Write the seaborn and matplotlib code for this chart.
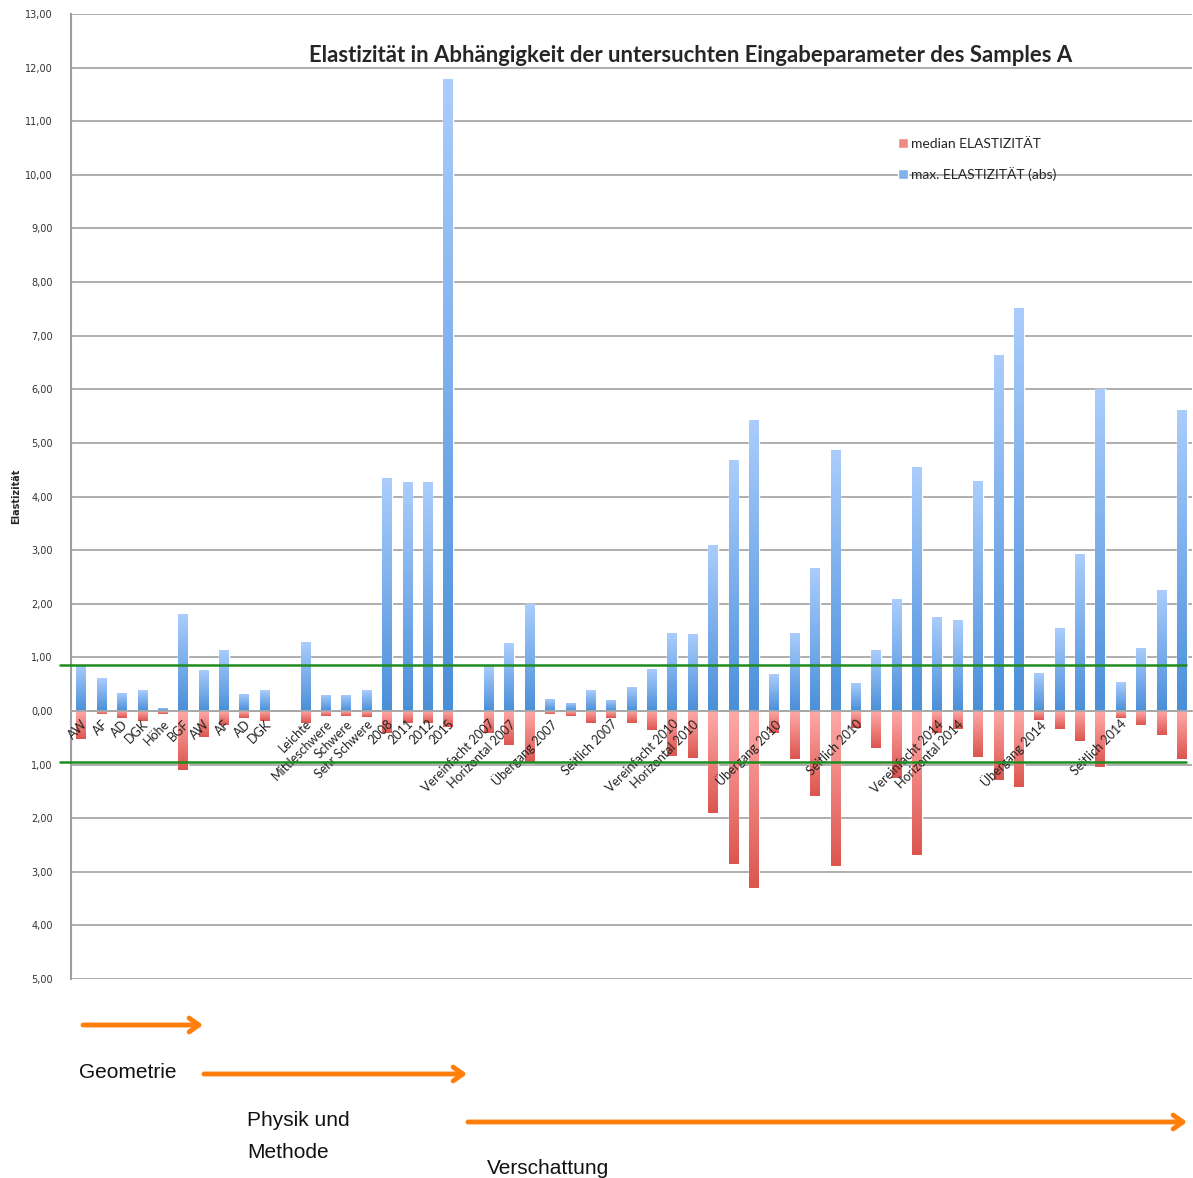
import numpy as np
import pandas as pd
import matplotlib
matplotlib.use("Agg")
import matplotlib.pyplot as plt
import matplotlib.transforms as mtrans
import seaborn as sns
from matplotlib.colors import LinearSegmentedColormap
from matplotlib.patches import Patch
from matplotlib.ticker import FuncFormatter, MultipleLocator

# Kategorien (leere Strings = Kategorien ohne Beschriftung)
labels = [
    "AW", "AF", "AD", "DGK", "Höhe", "BGF", "AW", "AF", "AD", "DGK", "",
    "Leichte", "Mittleschwere", "Schwere", "Sehr Schwere",
    "2008", "2011", "2012", "2015", "",
    "Vereinfacht 2007", "Horizontal 2007", "", "Übergang 2007", "", "",
    "Seitlich 2007", "", "",
    "Vereinfacht 2010", "Horizontal 2010", "", "", "", "Übergang 2010",
    "", "", "", "Seitlich 2010", "", "", "",
    "Vereinfacht 2014", "Horizontal 2014", "", "", "", "Übergang 2014",
    "", "", "", "Seitlich 2014", "", "", "",
]

max_elast = [
    0.86, 0.61, 0.34, 0.39, 0.06, 1.80, 0.77, 1.14, 0.32, 0.39, None,
    1.28, 0.30, 0.30, 0.39,
    4.34, 4.27, 4.27, 11.78, None,
    0.83, 1.26, 1.99, 0.23, 0.15, 0.39, 0.21, 0.45, 0.79,
    1.46, 1.44, 3.09, 4.68, 5.43, 0.68, 1.46, 2.66, 4.87, 0.53, 1.13, 2.08, 4.55,
    1.76, 1.69, 4.28, 6.64, 7.52, 0.71, 1.54, 2.92, 6.00, 0.54, 1.18, 2.25, 5.62,
]

median_elast = [
    -0.52, -0.05, -0.14, -0.19, -0.05, -1.11, -0.48, -0.26, -0.13, -0.19, None,
    -0.23, -0.09, -0.09, -0.11,
    -0.41, -0.22, -0.22, -0.30, None,
    -0.41, -0.63, -0.98, -0.05, -0.09, -0.23, -0.13, -0.23, -0.36,
    -0.84, -0.87, -1.90, -2.85, -3.30, -0.42, -0.89, -1.58, -2.90, -0.31, -0.69, -1.25, -2.68,
    -0.41, -0.33, -0.86, -1.29, -1.41, -0.17, -0.33, -0.56, -1.04, -0.13, -0.26, -0.45, -0.89,
]

grenzen = [0.85, -0.96]

series = ["median ELASTIZITÄT", "max. ELASTIZITÄT (abs)"]

pos = list(range(len(labels)))
df = pd.DataFrame({
    "pos": pos * 2,
    "wert": pd.array(median_elast + max_elast, dtype="Float64").astype(float),
    "reihe": [series[0]] * len(pos) + [series[1]] * len(pos),
})

sns.set_style("white")
plt.rcParams["font.family"] = ["Lato", "DejaVu Sans"]

W, H = 1193, 1178
fig = plt.figure(figsize=(W / 100, H / 100), dpi=100)
ax = fig.add_axes([71 / W, 1 - 979 / H, (1192 - 71) / W, (979 - 14) / H])

sns.barplot(data=df, x="pos", y="wert", hue="reihe", order=pos, hue_order=series,
            dodge=False, width=0.47, errorbar=None, legend=False,
            palette=["#f08a85", "#7fb1ec"], ax=ax)

# Farbverlauf wie in Excel
cmap_blau = LinearSegmentedColormap.from_list("blau", ["#4a8fd9", "#abcdfd"])
cmap_rot = LinearSegmentedColormap.from_list("rot", ["#dc554f", "#ffaaa8"])
grad = np.linspace(0, 1, 256).reshape(-1, 1)
for p in list(ax.patches):
    h = p.get_height()
    if not np.isfinite(h) or h == 0:
        continue
    x0 = p.get_x()
    x1 = x0 + p.get_width()
    y0, y1 = sorted([p.get_y(), p.get_y() + h])
    cm = cmap_blau if h > 0 else cmap_rot
    im = ax.imshow(grad, extent=(x0, x1, y0, y1), origin="lower", aspect="auto",
                   cmap=cm, zorder=p.get_zorder() + 0.1, interpolation="bilinear")
    im.set_clip_path(p)

ax.set_xlim(-0.5, len(labels) - 0.5)
ax.set_ylim(-5, 13)

# Gitterlinien hinter den Balken, Achsenbeschriftung darueber
for gy in range(-5, 14):
    ax.axhline(gy, color="#a8a8a8", lw=1.3, zorder=0.5)
ax.grid(False)
ax.set_axisbelow(False)

ax.yaxis.set_major_locator(MultipleLocator(1))
ax.yaxis.set_major_formatter(FuncFormatter(lambda v, _: f"{abs(v):.2f}".replace(".", ",")))
for s in ["top", "right"]:
    ax.spines[s].set_visible(False)
ax.spines["left"].set_color("#a0a0a0")
ax.spines["left"].set_linewidth(1.5)
ax.spines["bottom"].set_position(("data", 0))
ax.spines["bottom"].set_color("#a8a8a8")
ax.spines["bottom"].set_linewidth(1.3)

ax.tick_params(axis="y", length=4, color="#a0a0a0", pad=9, labelsize=7,
               labelcolor="#333333")
for t in ax.get_yticklabels():
    t.set_fontfamily("DejaVu Sans")

ax.set_xticks(pos)
ax.set_xticklabels(labels, rotation=45, ha="right", va="top",
                   rotation_mode="anchor", fontsize=9, color="#222222")
versatz = mtrans.ScaledTranslation(4 / 100, 0, fig.dpi_scale_trans)
for t in ax.get_xticklabels():
    t.set_transform(t.get_transform() + versatz)
ax.tick_params(axis="x", which="major", length=0, pad=5)
ax.set_xticks(np.arange(-0.5, len(labels), 1), minor=True)
ax.tick_params(axis="x", which="minor", length=3, color="#a8a8a8", width=1)

ax.set_xlabel("")
ax.set_ylabel("Elastizität", fontsize=7, fontweight="bold", family="DejaVu Sans",
              labelpad=3)

# Grenzlinien
for g in grenzen:
    ax.axhline(g, xmin=-0.01, xmax=0.995, color="#1e8c1e", lw=1.8, clip_on=False,
               zorder=5)

# Titel
fig.text(691 / W, 1 - 55 / H,
         "Elastizität in Abhängigkeit der untersuchten Eingabeparameter des Samples A",
         ha="center", va="center", fontsize=15.9, fontweight="bold")

# Legende
handles = [Patch(facecolor="#f08a85"), Patch(facecolor="#7fb1ec")]
fig.legend(handles, series, loc="upper left", bbox_to_anchor=(898 / W, 1 - 138 / H),
           frameon=False, fontsize=10, handlelength=0.7, handleheight=0.7,
           handletextpad=0.25, labelspacing=1.2, borderaxespad=0, borderpad=0)

# Pfeile und Texte unten
orange = "#ff7f0a"
pfeile = [(83, 203, 1025), (204, 467, 1074), (468, 1187, 1122)]
for xa, xb, yy in pfeile:
    ax.annotate("", xy=(xb, H - yy), xytext=(xa, H - yy), xycoords="figure pixels",
                textcoords="figure pixels", annotation_clip=False,
                arrowprops=dict(arrowstyle="->,head_length=0.7,head_width=0.5",
                                lw=3.5, color=orange, shrinkA=0, shrinkB=0))

texte = [(79, 1072, "Geometrie"), (247, 1121, "Physik und"), (247, 1152, "Methode"),
         (487, 1168, "Verschattung")]
for xx, yy, s in texte:
    fig.text(xx / W, 1 - yy / H, s, ha="left", va="center", fontsize=15,
             family="Liberation Sans", color="#111111")

fig.savefig("out.png", dpi=100)
